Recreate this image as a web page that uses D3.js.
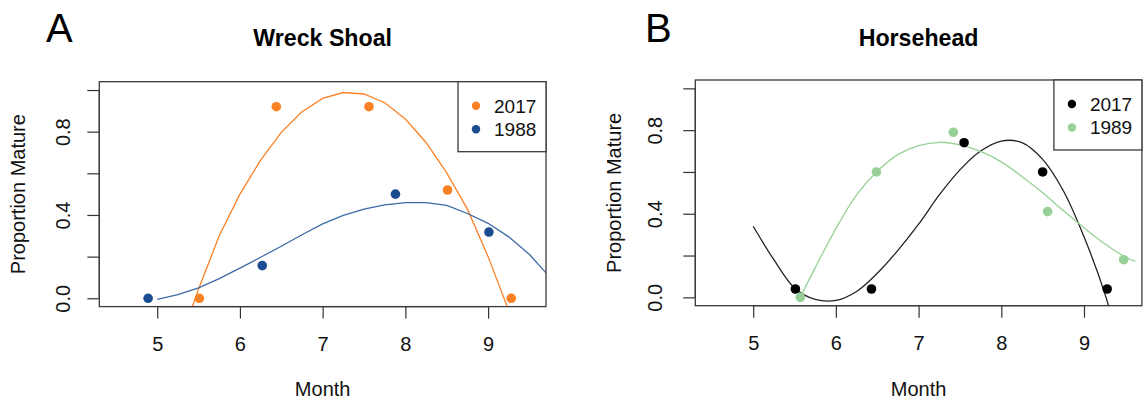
<!DOCTYPE html>
<html>
<head>
<meta charset="utf-8">
<script src="https://cdn.jsdelivr.net/npm/d3@7"></script>
<style>
  html, body { margin: 0; padding: 0; background: #fff; }
  svg { display: block; font-family: "Liberation Sans", Arial, Helvetica, sans-serif; }
</style>
</head>
<body>
<svg id="chart" width="1144" height="409"></svg>
<script>
// ---- Wreck Shoal: observed proportion mature by month ----
const wsMonths2017 = [5.51, 6.44, 7.56, 8.51, 9.28];
const wsProp2017   = [0.0, 0.92, 0.92, 0.52, 0.0];
const wsMonths1988 = [4.89, 6.27, 7.88, 9.01];
const wsProp1988   = [0.0, 0.157, 0.50, 0.318];

// Wreck Shoal fitted curves
const wsFitMonths2017 = [5.25, 5.5, 5.75, 6.0, 6.25, 6.5, 6.75, 7.0, 7.25, 7.5, 7.75, 8.0, 8.25, 8.5, 8.75, 9.0, 9.25, 9.5];
const wsFitProp2017   = [-0.24, 0.045, 0.30, 0.50, 0.663, 0.797, 0.896, 0.960, 0.988, 0.981, 0.939, 0.861, 0.748, 0.602, 0.428, 0.20, -0.06, -0.35];
const wsFitMonths1988 = [5.0, 5.25, 5.5, 5.75, 6.0, 6.25, 6.5, 6.75, 7.0, 7.25, 7.5, 7.75, 8.0, 8.25, 8.5, 8.75, 9.0, 9.25, 9.5, 9.75];
const wsFitProp1988   = [-0.005, 0.017, 0.05, 0.094, 0.145, 0.197, 0.25, 0.305, 0.357, 0.398, 0.428, 0.449, 0.459, 0.459, 0.446, 0.407, 0.36, 0.295, 0.21, 0.10];

// ---- Horsehead: observed proportion mature by month ----
const hhMonths2017 = [5.51, 6.43, 7.55, 8.50, 9.28];
const hhProp2017   = [0.04, 0.04, 0.74, 0.60, 0.04];
const hhMonths1989 = [5.57, 6.49, 7.42, 8.56, 9.48];
const hhProp1989   = [0.0, 0.60, 0.79, 0.41, 0.18];

// Horsehead fitted curves
const hhFitMonths2017 = [5.0, 5.25, 5.5, 5.75, 6.0, 6.25, 6.5, 6.75, 7.0, 7.25, 7.5, 7.75, 8.0, 8.25, 8.5, 8.75, 9.0, 9.25, 9.5];
const hhFitProp2017   = [0.34, 0.18, 0.045, -0.01, -0.015, 0.028, 0.115, 0.225, 0.35, 0.49, 0.61, 0.70, 0.748, 0.74, 0.66, 0.51, 0.29, 0.02, -0.33];
const hhFitMonths1989 = [5.57, 5.75, 6.0, 6.25, 6.5, 6.75, 7.0, 7.25, 7.5, 7.75, 8.0, 8.25, 8.5, 8.75, 9.0, 9.25, 9.5, 9.62];
const hhFitProp1989   = [0.0, 0.142, 0.329, 0.49, 0.603, 0.683, 0.726, 0.742, 0.73, 0.698, 0.648, 0.578, 0.50, 0.415, 0.333, 0.256, 0.192, 0.172];

// Axis ticks
const monthTicks = [5, 6, 7, 8, 9];
const monthTickLabels = ["5", "6", "7", "8", "9"];
const propTicks = [0, 0.2, 0.4, 0.6, 0.8, 1.0];
const propTickLabels = ["0.0", "", "0.4", "", "0.8", ""];

const ORANGE = "#fb8127", BLUE = "#1b4c8f", BLACK = "#000000", GREEN = "#97d197";
const FONT = 20;
const LEGEND_FONT = 19;

const svg = d3.select("#chart");

function zip(xs, ys) { return xs.map((x, i) => [x, ys[i]]); }

function panel(opt) {
  const x = d3.scaleLinear().domain([4.3, 9.7]).range([opt.left, opt.right]);
  const y = d3.scaleLinear().domain([-0.04, 1.04]).range([opt.bottom, opt.top]);
  const g = svg.append("g");
  const clipId = "clip-" + opt.id;

  g.append("clipPath").attr("id", clipId)
    .append("rect")
    .attr("x", opt.left).attr("y", opt.top)
    .attr("width", opt.right - opt.left).attr("height", opt.bottom - opt.top);

  // panel letter and title
  g.append("text").attr("x", opt.letterX).attr("y", 42)
    .attr("font-size", 40).attr("fill", "#000").text(opt.letter);
  g.append("text").attr("x", (opt.left + opt.right) / 2).attr("y", 46)
    .attr("text-anchor", "middle").attr("font-size", 23.2).attr("font-weight", "bold")
    .attr("fill", "#000").text(opt.title);

  // x axis
  const xa = g.append("g").attr("transform", `translate(0,${opt.bottom})`)
    .call(d3.axisBottom(x).tickValues(monthTicks).tickSize(12).tickPadding(18).tickSizeOuter(0)
      .tickFormat((d, i) => monthTickLabels[i]));
  xa.select(".domain").remove();
  xa.append("line").attr("x1", x(monthTicks[0])).attr("x2", x(monthTicks[monthTicks.length - 1]))
    .attr("stroke", "#000");
  xa.selectAll("line").attr("stroke", "#333").attr("stroke-width", 1.2);
  xa.selectAll("text").attr("font-size", FONT).attr("fill", "#111").attr("font-family", null);

  // y axis with labels parallel to the axis
  const ya = g.append("g").attr("transform", `translate(${opt.left},0)`)
    .call(d3.axisLeft(y).tickValues(propTicks).tickSize(12).tickSizeOuter(0)
      .tickFormat((d, i) => propTickLabels[i]));
  ya.select(".domain").remove();
  ya.append("line").attr("y1", y(propTicks[0])).attr("y2", y(propTicks[propTicks.length - 1]))
    .attr("stroke", "#000");
  ya.selectAll("line").attr("stroke", "#333").attr("stroke-width", 1.2);
  ya.selectAll("text")
    .attr("x", null).attr("dy", "0.35em")
    .attr("transform", `translate(${-opt.yLabelOffset},0) rotate(-90)`)
    .attr("text-anchor", "middle")
    .attr("font-size", FONT).attr("fill", "#111").attr("font-family", null);

  // axis titles
  g.append("text").attr("x", (opt.left + opt.right) / 2).attr("y", 396)
    .attr("text-anchor", "middle").attr("font-size", FONT).attr("fill", "#111").text("Month");
  g.append("text")
    .attr("transform", `translate(${opt.yTitleX},${(opt.top + opt.bottom) / 2}) rotate(-90)`)
    .attr("dy", "0.35em")
    .attr("text-anchor", "middle").attr("font-size", FONT).attr("fill", "#111").text("Proportion Mature");

  // fitted curves, clipped to the plotting region
  const line = d3.line().x(d => x(d[0])).y(d => y(d[1])).curve(opt.curve);
  opt.series.forEach(s => {
    g.append("path").attr("clip-path", `url(#${clipId})`)
      .attr("d", line(zip(s.fitX, s.fitY)))
      .attr("fill", "none").attr("stroke", s.lineColor).attr("stroke-width", 1.3);
  });

  // observed points
  opt.series.forEach(s => {
    g.selectAll(null).data(zip(s.ptX, s.ptY)).enter().append("circle")
      .attr("cx", d => x(d[0])).attr("cy", d => y(d[1])).attr("r", 4.8)
      .attr("fill", s.color);
  });

  // plot frame
  g.append("rect").attr("x", opt.left).attr("y", opt.top)
    .attr("width", opt.right - opt.left).attr("height", opt.bottom - opt.top)
    .attr("fill", "none").attr("stroke", "#3a3a3a").attr("stroke-width", 1.3);

  // legend (top right)
  const lw = 88, lh = 70;
  const lx = opt.right - lw, ly = opt.top;
  const lg = g.append("g");
  lg.append("rect").attr("x", lx).attr("y", ly).attr("width", lw).attr("height", lh)
    .attr("fill", "#fff").attr("stroke", "#3a3a3a").attr("stroke-width", 1.3);
  opt.series.forEach((s, i) => {
    const cy = ly + 24 + i * 23.5;
    lg.append("circle").attr("cx", lx + 18).attr("cy", cy).attr("r", 4.2).attr("fill", s.color);
    lg.append("text").attr("x", lx + 36).attr("y", cy).attr("dy", "0.36em")
      .attr("font-size", LEGEND_FONT).attr("fill", "#111").text(s.name);
  });
}

panel({
  id: "ws", letter: "A", letterX: 46, title: "Wreck Shoal",
  left: 99.3, right: 546, top: 81.7, bottom: 306.6,
  yLabelOffset: 36, yTitleX: 18, curve: d3.curveLinear,
  series: [
    { name: "2017", color: ORANGE, lineColor: ORANGE, ptX: wsMonths2017, ptY: wsProp2017, fitX: wsFitMonths2017, fitY: wsFitProp2017 },
    { name: "1988", color: BLUE, lineColor: "#3d6aa6", ptX: wsMonths1988, ptY: wsProp1988, fitX: wsFitMonths1988, fitY: wsFitProp1988 }
  ]
});

panel({
  id: "hh", letter: "B", letterX: 645, title: "Horsehead",
  left: 695.3, right: 1141.9, top: 80, bottom: 305.7,
  yLabelOffset: 40, yTitleX: 614, curve: d3.curveCatmullRom,
  series: [
    { name: "2017", color: BLACK, lineColor: "#222", ptX: hhMonths2017, ptY: hhProp2017, fitX: hhFitMonths2017, fitY: hhFitProp2017 },
    { name: "1989", color: GREEN, lineColor: GREEN, ptX: hhMonths1989, ptY: hhProp1989, fitX: hhFitMonths1989, fitY: hhFitProp1989 }
  ]
});
</script>
</body>
</html>
